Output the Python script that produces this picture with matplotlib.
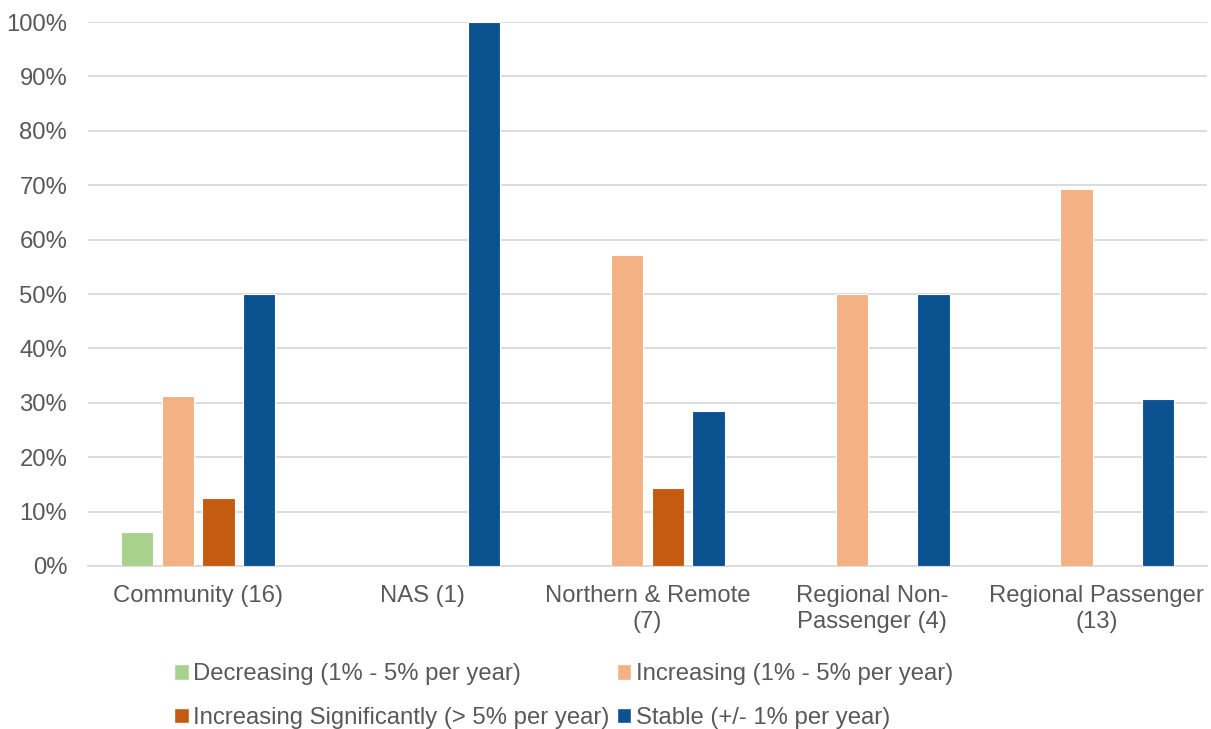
import matplotlib.pyplot as plt
import matplotlib.patches as mpatches
import numpy as np

plt.rcParams["font.family"] = ["Liberation Sans", "DejaVu Sans"]

categories = ["Community (16)", "NAS (1)", "Northern & Remote\n(7)",
              "Regional Non-\nPassenger (4)", "Regional Passenger\n(13)"]
series_names = ["Decreasing (1% - 5% per year)", "Increasing (1% - 5% per year)",
                "Increasing Significantly (> 5% per year)", "Stable (+/- 1% per year)"]
decreasing = [6.25, 0, 0, 0, 0]
increasing = [31.25, 0, 57.14, 50.0, 69.23]
increasing_sig = [12.5, 0, 14.29, 0, 0]
stable = [50.0, 100.0, 28.57, 50.0, 30.77]
yticks = [0, 10, 20, 30, 40, 50, 60, 70, 80, 90, 100]

colors = ["#A9D18E", "#F4B183", "#C55A11", "#0B5290"]
text_color = "#595959"
fs = 17.2

fig = plt.figure(figsize=(12.11, 7.29), dpi=100)
ax = fig.add_axes([0.0727, 0.2236, 0.924, 0.7462])

x = np.arange(len(categories))
step = 0.181
width = 0.145
for i, (vals, color) in enumerate(zip([decreasing, increasing, increasing_sig, stable], colors)):
    ax.bar(x + (i - 1.5) * step, vals, width, color=color, edgecolor="white",
           linewidth=0.8, zorder=3)

ax.set_xlim(-0.49, len(categories) - 0.51)
ax.set_ylim(0, 100)
ax.set_yticks(yticks)
ax.set_yticklabels([f"{v}%" for v in yticks])
ax.set_xticks(x)
ax.set_xticklabels(categories, linespacing=1.2)
ax.tick_params(axis="both", length=0, labelsize=fs, colors=text_color)
ax.tick_params(axis="x", pad=14)
ax.tick_params(axis="y", pad=15)
ax.grid(axis="y", color="#D9D9D9", linewidth=1.3, zorder=0)
for side in ["top", "right", "left"]:
    ax.spines[side].set_visible(False)
ax.spines["bottom"].set_color("#D9D9D9")
ax.spines["bottom"].set_linewidth(1.3)

# legend fills column-first, so order handles to read row by row
patches = [mpatches.Patch(facecolor=c, edgecolor="white", label=n)
           for c, n in zip(colors, series_names)]
handles = [patches[0], patches[2], patches[1], patches[3]]
fig.legend(handles=handles, loc="center", bbox_to_anchor=(0.4655, 0.045), ncol=2,
           frameon=False, fontsize=fs, labelcolor=text_color,
           handlelength=0.6, handleheight=0.6, handletextpad=0.2,
           columnspacing=0.3, labelspacing=0.9)

fig.savefig("out.png", dpi=100)
